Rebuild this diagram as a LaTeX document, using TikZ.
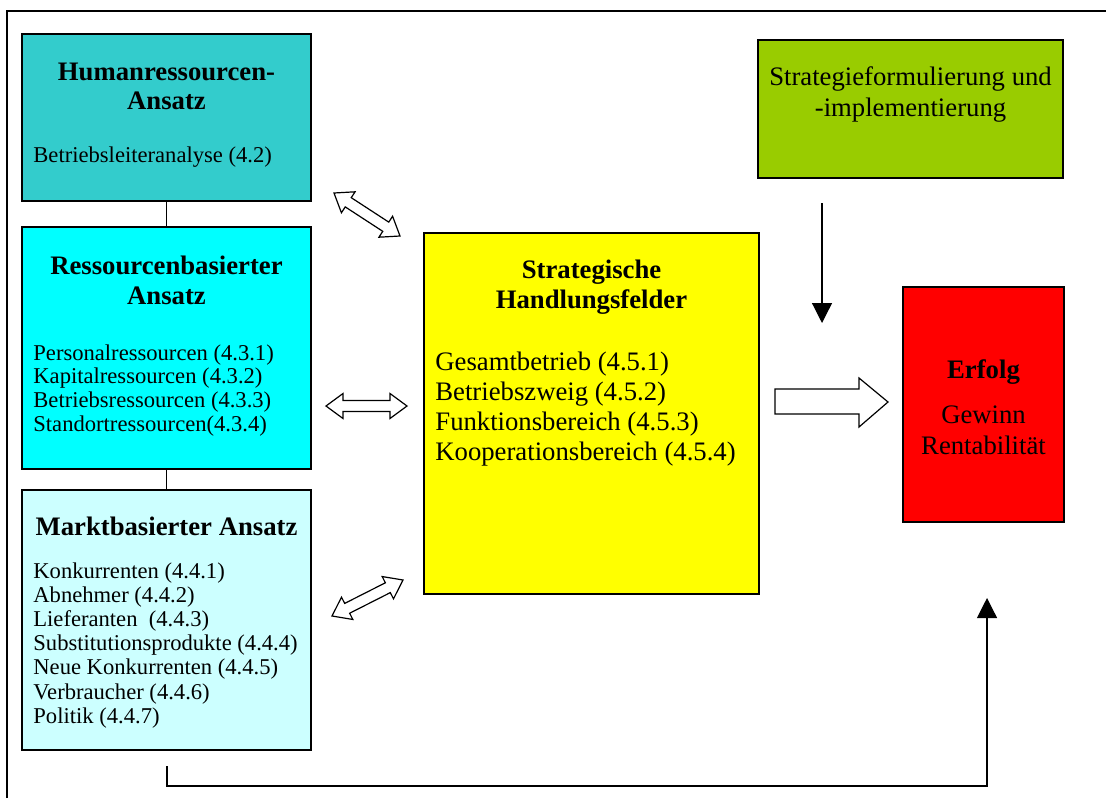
\documentclass[tikz,border=0pt]{standalone}
\usepackage{fontspec}
\setmainfont{Liberation Serif}
\usetikzlibrary{calc,arrows.meta}
\definecolor{humanc}{HTML}{33CCCC}
\definecolor{resc}{HTML}{00FFFF}
\definecolor{marketc}{HTML}{CCFFFF}
\definecolor{yellowc}{HTML}{FFFF00}
\definecolor{greenc}{HTML}{99CC00}
\definecolor{redc}{HTML}{FF0000}
\newcommand\bigf{\fontsize{13.35pt}{15pt}\selectfont}
\newcommand\smlf{\fontsize{11.3pt}{12pt}\selectfont}
\newcommand\hl{8.5pt}
\newcommand\hw{6.25pt}
\newcommand\sw{2.75pt}
\newcommand\blockdbl[2]{%
  \coordinate (h1) at ($(#1)!\hl!(#2)$);
  \coordinate (h2) at ($(#2)!\hl!(#1)$);
  \draw[blockarrow] (#1) -- ($(h1)!\hw!90:(#2)$) -- ($(h1)!\sw!90:(#2)$)
    -- ($(h2)!\sw!-90:(#1)$) -- ($(h2)!\hw!-90:(#1)$) -- (#2)
    -- ($(h2)!\hw!90:(#1)$) -- ($(h2)!\sw!90:(#1)$)
    -- ($(h1)!\sw!-90:(#2)$) -- ($(h1)!\hw!-90:(#2)$) -- cycle;}
\tikzset{
  box/.style={draw=black, line width=0.75pt, inner sep=0pt, outer sep=0pt},
  hd/.style={font=\bigf\bfseries, inner sep=0pt, anchor=base},
  bigtxt/.style={font=\bigf, inner sep=0pt},
  smltxt/.style={font=\smlf, inner sep=0pt, anchor=base west},
  blockarrow/.style={draw=black, fill=white, line width=0.6pt, line join=miter},
  conn/.style={draw=black, line width=0.6pt},
  frame/.style={draw=black, line width=0.75pt}
}
\begin{document}
\begin{tikzpicture}[x=0.5pt, y=-0.5pt]
\useasboundingbox (0,0) rectangle (1106,798);
% outer frame (right and bottom edges lie outside the picture)
\draw[frame] (7,798) -- (7,11) -- (1106,11);

% boxes
\node[box, fill=humanc, minimum width=144.5pt, minimum height=83.5pt] (human) at (166.5,117.5) {};
\node[box, fill=resc, minimum width=144.5pt, minimum height=121pt] (res) at (166.5,348) {};
\node[box, fill=marketc, minimum width=144.5pt, minimum height=130pt] (market) at (166.5,620) {};
\node[box, fill=yellowc, minimum width=167.5pt, minimum height=180.5pt] (field) at (591.5,413.5) {};
\node[box, fill=greenc, minimum width=152.5pt, minimum height=69pt] (strat) at (910.5,109) {};
\node[box, fill=redc, minimum width=80.5pt, minimum height=117.5pt] (erfolg) at (983.5,404.5) {};

% human text
\node[hd] (h1t) at (166.5,80) {Humanressourcen-};
\node[hd] (h2t) at (166.5,109) {Ansatz};
\node[smltxt] (h3t) at (33,162) {Betriebsleiteranalyse (4.2)};

% resource text
\node[hd] (r1t) at (166.5,274) {Ressourcenbasierter};
\node[hd] (r2t) at (166.5,304) {Ansatz};
\node[smltxt] (r3t) at (33,360) {Personalressourcen (4.3.1)};
\node[smltxt] (r4t) at (33,383.7) {Kapitalressourcen (4.3.2)};
\node[smltxt] (r5t) at (33,407.4) {Betriebsressourcen (4.3.3)};
\node[smltxt] (r6t) at (33,431.1) {Standortressourcen(4.3.4)};

% market text
\node[hd] (m1t) at (166.5,535) {Marktbasierter Ansatz};
\node[smltxt] (m2t) at (33,578) {Konkurrenten (4.4.1)};
\node[smltxt] (m3t) at (33,602.2) {Abnehmer (4.4.2)};
\node[smltxt] (m4t) at (33,626.4) {Lieferanten\ \ (4.4.3)};
\node[smltxt] (m5t) at (33,650.6) {Substitutionsprodukte (4.4.4)};
\node[smltxt] (m6t) at (33,674.8) {Neue Konkurrenten (4.4.5)};
\node[smltxt] (m7t) at (33,699) {Verbraucher (4.4.6)};
\node[smltxt] (m8t) at (33,723.2) {Politik (4.4.7)};

% field text
\node[hd] (f1t) at (591.5,278) {Strategische};
\node[hd] (f2t) at (591.5,308) {Handlungsfelder};
\node[bigtxt, anchor=base west] (f3t) at (435,370) {Gesamtbetrieb (4.5.1)};
\node[bigtxt, anchor=base west] (f4t) at (435,400) {Betriebszweig (4.5.2)};
\node[bigtxt, anchor=base west] (f5t) at (435,430) {Funktionsbereich (4.5.3)};
\node[bigtxt, anchor=base west] (f6t) at (435,460) {Kooperationsbereich (4.5.4)};

% strategy text
\node[bigtxt, anchor=base] (s1t) at (910.5,85) {Strategieformulierung und};
\node[bigtxt, anchor=base] (s2t) at (910.5,116) {-implementierung};

% erfolg text
\node[hd] (e1t) at (983.5,378) {Erfolg};
\node[bigtxt, anchor=base] (e2t) at (983.5,423) {Gewinn};
\node[bigtxt, anchor=base] (e3t) at (983.5,454) {Rentabilität};

% vertical links between left boxes
\draw[conn] (human.south) -- (res.north);
\draw[conn] (res.south) -- (market.north);

% double block arrows
\coordinate (a1) at (334,193);
\coordinate (b1) at (400,236);
\blockdbl{a1}{b1}
\coordinate (a2) at (326,406);
\coordinate (b2) at (407,406);
\blockdbl{a2}{b2}
\coordinate (a3) at (332,616);
\coordinate (b3) at (403,580);
\blockdbl{a3}{b3}

% big arrow to Erfolg
\draw[blockarrow] (775,389) -- (859,389) -- (859,378) -- (888,402) -- (859,427)
  -- (859,414) -- (775,414) -- cycle;

% strategy arrow down
\coordinate (sd1) at (822,203);
\coordinate (sd2) at (822,323);
\draw[conn, -{Triangle[width=10pt,length=10pt]}] (sd1) -- (sd2);

% bottom feedback connector
\coordinate (fb1) at (167,766);
\coordinate (fb2) at (167,786);
\coordinate (fb3) at (987,786);
\coordinate (fb4) at (987,598);
\draw[conn, -{Triangle[width=10pt,length=10pt]}] (fb1) -- (fb2) -- (fb3) -- (fb4);
\end{tikzpicture}
\end{document}
